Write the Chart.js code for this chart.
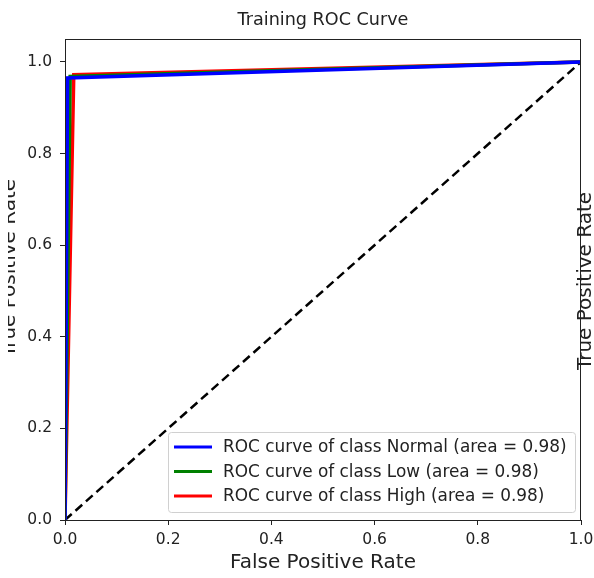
<!DOCTYPE html>
<html>
<head>
<meta charset="utf-8">
<script src="https://cdn.jsdelivr.net/npm/chart.js@4.4.1/dist/chart.umd.min.js"></script>
<style>
  body { margin: 0; background: #fff; }
</style>
</head>
<body>
<canvas id="roc" width="594" height="578"></canvas>
<script>
// ROC data
const classNames = ["Normal", "Low", "High"];
const classColors = ["#0000ff", "#008000", "#ff0000"];
const classAuc = [0.98, 0.98, 0.98];
const fprNormal = [0, 0.005, 1];
const tprNormal = [0, 0.965, 1];
const fprLow = [0, 0.010, 1];
const tprLow = [0, 0.968, 1];
const fprHigh = [0, 0.017, 1];
const tprHigh = [0, 0.972, 1];
const chanceX = [0, 1];
const chanceY = [0, 1];
const tickValues = [0, 0.2, 0.4, 0.6, 0.8, 1.0];

const FONT = "'DejaVu Sans', sans-serif";
const fprs = [fprNormal, fprLow, fprHigh];
const tprs = [tprNormal, tprLow, tprHigh];

const toPoints = (xs, ys) => xs.map((x, i) => ({ x: x, y: ys[i] }));

const datasets = classNames.map((name, i) => ({
  label: "ROC curve of class " + name + " (area = " + classAuc[i].toFixed(2) + ")",
  data: toPoints(fprs[i], tprs[i]),
  borderColor: classColors[i],
  borderWidth: 3.5,
  pointRadius: 0,
  tension: 0
}));
datasets.push({
  label: "",
  data: toPoints(chanceX, chanceY),
  borderColor: "#000",
  borderWidth: 2.5,
  borderDash: [9, 5],
  pointRadius: 0
});

// frame, titles and the in-plot legend
const decorations = {
  id: "decorations",
  afterDraw(chart) {
    const ctx = chart.ctx;
    const a = chart.chartArea;
    ctx.save();
    ctx.strokeStyle = "#222";
    ctx.lineWidth = 1;
    ctx.strokeRect(a.left + 0.5, a.top + 0.5, a.right - a.left - 1, a.bottom - a.top);

    const cx = (a.left + a.right) / 2;
    ctx.fillStyle = "#222";
    ctx.textAlign = "center";
    ctx.textBaseline = "middle";
    ctx.font = "17.6px " + FONT;
    ctx.fillText("Training ROC Curve", cx, 20);

    // y labels: the left one is cut off by the edge of the picture
    ctx.font = "20px " + FONT;
    ctx.textBaseline = "alphabetic";
    ctx.save();
    ctx.beginPath();
    ctx.rect(8, 0, 8, chart.height);
    ctx.clip();
    ctx.translate(15, 268);
    ctx.rotate(-Math.PI / 2);
    ctx.fillText("True Positive Rate", 0, 0);
    ctx.restore();
    ctx.save();
    ctx.translate(591, 281);
    ctx.rotate(-Math.PI / 2);
    ctx.fillText("True Positive Rate", 0, 0);
    ctx.restore();

    // legend
    const bx = 168, by = 432, bw = 407, bh = 80;
    ctx.fillStyle = "rgba(255,255,255,0.8)";
    ctx.strokeStyle = "#d0d0d0";
    ctx.beginPath();
    ctx.roundRect(bx + 0.5, by + 0.5, bw, bh, 3);
    ctx.fill();
    ctx.stroke();
    ctx.font = "16.9px " + FONT;
    ctx.textAlign = "left";
    ctx.textBaseline = "middle";
    chart.data.datasets.forEach((ds, i) => {
      if (!ds.label) return;
      const y = by + 15 + i * 24.5;
      ctx.strokeStyle = ds.borderColor;
      ctx.lineWidth = 3;
      ctx.beginPath();
      ctx.moveTo(bx + 6, y);
      ctx.lineTo(bx + 44, y);
      ctx.stroke();
      ctx.fillStyle = "#222";
      ctx.fillText(ds.label, bx + 55, y + 1);
    });
    ctx.restore();
  }
};

new Chart(document.getElementById("roc"), {
  type: "line",
  data: { datasets: datasets },
  options: {
    responsive: false,
    animation: false,
    layout: { padding: { top: 39, right: 13, left: 0, bottom: 0 } },
    plugins: {
      legend: { display: false },
      tooltip: { enabled: false },
      title: { display: false }
    },
    scales: {
      x: {
        type: "linear",
        min: 0,
        max: 1,
        afterBuildTicks: s => { s.ticks = tickValues.map(v => ({ value: v })); },
        afterFit: s => { s.height = 58; s.paddingRight = 0; s.paddingLeft = 0; },
        grid: { drawOnChartArea: false, drawTicks: true, tickLength: 5, color: "#222" },
        border: { display: true, color: "#222" },
        ticks: {
          color: "#222",
          padding: 6,
          maxRotation: 0,
          font: { family: FONT, size: 15.5 },
          callback: v => v.toFixed(1)
        },
        title: {
          display: true,
          text: "False Positive Rate",
          color: "#222",
          font: { family: FONT, size: 20 },
          padding: { top: 0, bottom: 3 }
        }
      },
      y: {
        type: "linear",
        min: 0,
        max: 1.05,
        afterBuildTicks: s => { s.ticks = tickValues.map(v => ({ value: v })); },
        afterFit: s => { s.width = 65; },
        grid: { drawOnChartArea: false, drawTicks: true, tickLength: 5, color: "#222" },
        border: { display: true, color: "#222" },
        ticks: {
          color: "#222",
          padding: 8,
          font: { family: FONT, size: 15.5 },
          callback: v => v.toFixed(1)
        }
      }
    }
  },
  plugins: [decorations]
});
</script>
</body>
</html>
